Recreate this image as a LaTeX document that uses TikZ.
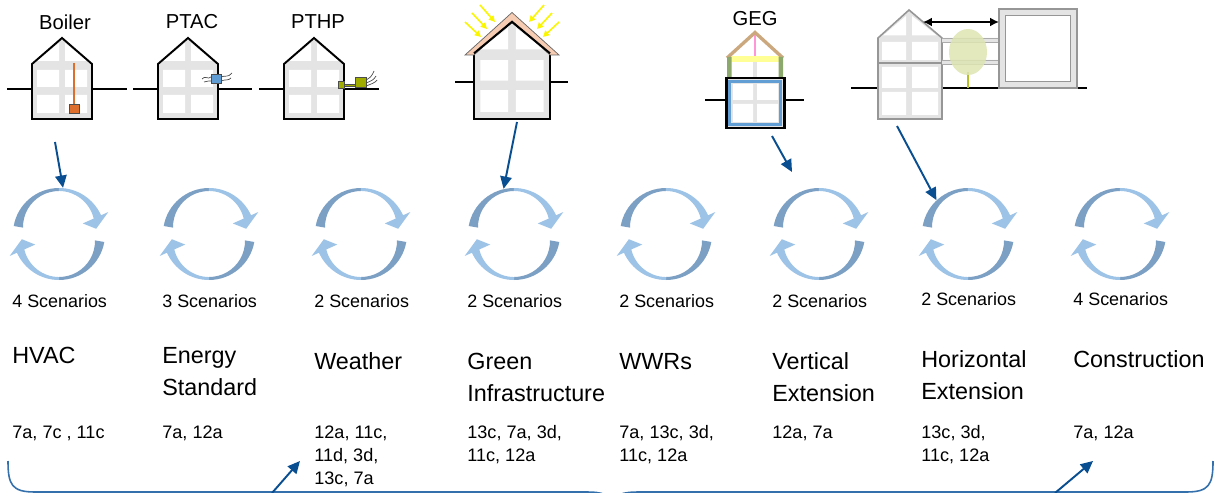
\documentclass[tikz,border=0pt]{standalone}
\usepackage{fontspec}
\setmainfont{Liberation Sans}
\usetikzlibrary{arrows.meta,calc}

\definecolor{housegray}{RGB}{228,228,228}
\definecolor{cycdark}{RGB}{124,160,196}
\definecolor{cyclight}{RGB}{157,195,230}
\definecolor{linkblue}{RGB}{10,78,146}
\definecolor{braceblue}{RGB}{52,112,172}
\definecolor{boilerorange}{RGB}{222,110,44}
\definecolor{ptacblue}{RGB}{96,156,212}
\definecolor{pthpolive}{RGB}{160,172,0}
\definecolor{rooftan}{RGB}{246,204,178}
\definecolor{sunyellow}{RGB}{250,245,0}
\definecolor{gegtan}{RGB}{204,168,126}
\definecolor{gegpink}{RGB}{255,150,215}
\definecolor{gegyellow}{RGB}{255,255,150}
\definecolor{geggreen}{RGB}{140,168,108}
\definecolor{gegblue}{RGB}{98,158,212}
\definecolor{oldgray}{RGB}{150,150,150}
\definecolor{treegreen}{RGB}{222,228,178}
\definecolor{trunkolive}{RGB}{184,192,40}

\tikzset{
  scen/.style={inner sep=0pt, anchor=base west, font=\fontsize{10.2}{13}\selectfont},
  ttl/.style={inner sep=0pt, anchor=base west, font=\fontsize{13.3}{18.1}\selectfont},
  codes/.style={inner sep=0pt, anchor=base west, font=\fontsize{10.3}{13}\selectfont},
  toplabel/.style={inner sep=0pt, font=\fontsize{11.5}{13}\selectfont},
  cyc/.style={circle, minimum size=1.84cm, inner sep=0pt, draw=none},
  link/.style={draw=linkblue, line width=1.1pt, -{Triangle[length=7pt,width=6.5pt]}},
  wall/.style={draw=black, line width=1.1pt, line join=miter},
  ground/.style={draw=black, line width=1.1pt},
  brace/.style={draw=braceblue, line width=0.9pt},
  ray/.style={draw=sunyellow, line width=0.9pt, -{Triangle[length=3.5pt,width=3.5pt]}},
  % house with gray frame and four white panes, origin at bottom centre
  pics/home/.style={code={
    \fill[housegray] (-30,0) -- (-30,-55) -- (0,-81) -- (30,-55) -- (30,0) -- cycle;
    \fill[white] (-25,-49) rectangle (-3,-32) (3,-49) rectangle (25,-32)
                 (-25,-24) rectangle (-3,-6) (3,-24) rectangle (25,-6);
    \fill[white] (-25,-58) -- (-3,-58) -- (-3,-76) -- cycle
                 (25,-58) -- (3,-58) -- (3,-76) -- cycle;
    \draw[wall] (-30,0) -- (-30,-55) -- (0,-81) -- (30,-55) -- (30,0) -- cycle;
  }},
  % two circular arrows forming a cycle, origin at centre
  pics/cycle/.style={code={
    \foreach \r in {0,180}{
      \begin{scope}[rotate=\r]
        \fill[cycdark] (190:46) arc[start angle=190, end angle=270, radius=46]
          -- (0,-43) arc[start angle=270, end angle=179, radius=36] -- cycle;
        \fill[cyclight] (270:46) arc[start angle=270, end angle=336, radius=46]
          -- (336:54) -- (352:37.5) -- (336:26) -- (336:38)
          arc[start angle=346.5, end angle=270, radius=36] -- cycle;
      \end{scope}
    }
  }}
}

\begin{document}
\begin{tikzpicture}[x=0.02cm, y=-0.02cm]
\useasboundingbox (0,0) rectangle (1219,493);
\clip (0,0) rectangle (1219,493);

% ---------- Boiler ----------
\draw[ground] (7,89) -- (32,89) (92,89) -- (127,89);
\pic at (62,119) {home};
\draw[boilerorange, line width=1.2pt] (74,63) -- (74,105);
\filldraw[fill=boilerorange, draw=black!70, line width=0.5pt] (69.5,104) rectangle (79,113);
\node[toplabel] (boiler) at (65,22) {Boiler};

% ---------- PTAC ----------
\draw[ground] (133,89) -- (158,89) (218,89) -- (252,89);
\pic at (188,119) {home};
\draw[black!70, line width=0.4pt]
  (202,79) .. controls (205,75) and (208,80) .. (211,77)
  (204,82) .. controls (207,80) and (209,82) .. (211,81)
  (221,77) .. controls (225,75) and (228,78) .. (232,73)
  (221,81) .. controls (226,79) and (228,81) .. (231,78);
\filldraw[fill=ptacblue, draw=black!70, line width=0.5pt] (211,74) rectangle (221,83);
\node[toplabel] (ptac) at (192,22) {PTAC};

% ---------- PTHP ----------
\draw[ground] (259,89) -- (284,89) (344,89) -- (379,89);
\pic at (314,119) {home};
\filldraw[fill=pthpolive, draw=black!70, line width=0.4pt] (344,84) rectangle (355,86.5);
\filldraw[fill=pthpolive, draw=black!70, line width=0.5pt] (338,81) rectangle (344.5,88);
\filldraw[fill=pthpolive, draw=black!70, line width=0.5pt] (355,77) rectangle (366,87);
\draw[black!70, line width=0.4pt]
  (366,80) .. controls (370,78) and (372,76) .. (374,71)
  (366,83) .. controls (371,81) and (374,80) .. (376,76)
  (366,86) .. controls (371,84) and (375,83) .. (377,80);
\node[toplabel] (pthp) at (318,22) {PTHP};

% ---------- Green infrastructure ----------
\draw[ground] (455,82) -- (474,82) (550,82) -- (568,82);
\pic[xscale=1.267, yscale=1.2] at (512,119) {home};
\filldraw[fill=rooftan, draw=black!60, line width=0.4pt]
  (465,55) -- (512,12.5) -- (559,55) -- (550,55) -- (512,21) -- (474,55) -- cycle;
\draw[wall] (474,53.3) -- (512,21.8) -- (550,53.3);
\draw[ray] (465,22) -- (481,37);
\draw[ray] (472,13) -- (487,29);
\draw[ray] (480,5) -- (495,22);
\draw[ray] (544,5) -- (529,22);
\draw[ray] (552,13) -- (537,29);
\draw[ray] (559,22) -- (543,37);

% ---------- GEG vertical extension ----------
\draw[ground] (705,100) -- (726,100) (784,100) -- (804,100);
\fill[white] (727,57) -- (755,32) -- (783,57) -- (783,78) -- (727,78) -- cycle;
\draw[housegray, line width=2pt] (755,62) -- (755,78);
\fill[gegyellow] (727,56) rectangle (783,62);
\draw[gegpink, line width=1.6pt] (755,35) -- (755,56);
\draw[gegtan, line width=1.9pt, line join=miter] (727,58) -- (755,32.5) -- (783,58);
\fill[geggreen] (727,57) rectangle (731.5,78) (778.5,57) rectangle (783,78);
\fill[housegray] (726,78) rectangle (784,128);
\fill[white] (733,84) rectangle (753,100) (757,84) rectangle (778,100)
             (733,104) rectangle (753,122) (757,104) rectangle (778,122);
\draw[gegblue, line width=2.2pt] (729.5,81.5) rectangle (780.5,124.5);
\draw[black, line width=1.7pt] (726,78) rectangle (784,128);
\node[toplabel] (geg) at (755,19) {GEG};

% ---------- Horizontal extension ----------
\draw[ground] (851,88) -- (878,88) (942,88) -- (999,88) (1077,88) -- (1087,88);
\fill[housegray] (878,119) -- (878,38) -- (909,10) -- (942,38) -- (942,119) -- cycle;
\fill[white] (882,42) rectangle (906,60) (912,42) rectangle (938,60)
             (882,67) rectangle (906,88) (912,67) rectangle (938,88)
             (882,92) rectangle (906,115) (912,92) rectangle (938,115);
\fill[white] (883,35.5) -- (906,35.5) -- (906,16) -- cycle
             (912,35.5) -- (937,35.5) -- (912,16) -- cycle;
\draw[oldgray, line width=0.9pt, line join=miter]
  (878,119) -- (878,38) -- (909,10) -- (942,38) -- (942,119) -- cycle;
\draw[oldgray, line width=0.9pt] (878,63) -- (942,63);
% corridors to the neighbouring block
\fill[housegray] (942,38) rectangle (999,42) (942,60) rectangle (999,64);
\draw[oldgray!80, line width=0.5pt] (942,38) -- (999,38) (942,42) -- (999,42)
  (942,60) -- (999,60) (942,64) -- (999,64);
\draw[trunkolive, line width=0.9pt] (968,72) -- (968,88);
\fill[treegreen, opacity=0.85] (968,52) ellipse[x radius=19, y radius=23];
\fill[housegray, even odd rule] (999,9) rectangle (1077,88) (1005.5,15.5) rectangle (1070.5,81.5);
\draw[oldgray, line width=0.9pt] (999,9) rectangle (1077,88) (1005.5,15.5) rectangle (1070.5,81.5);
\draw[black, line width=1.4pt, {Latex[length=5pt,width=5pt]}-{Latex[length=5pt,width=5pt]}]
  (923,22) -- (999,22);

% ---------- cycle symbols ----------
\foreach \n/\cx in {1/59,2/209,3/361,4/514,5/666,6/819,7/968,8/1120}{
  \pic at (\cx,234) {cycle};
  \node[cyc] (c\n) at (\cx,234) {};
}

% ---------- links from the options to the cycles ----------
\coordinate (boilerfoot) at (55,142);
\coordinate (greenfoot) at (517,122);
\coordinate (gegfoot) at (772,136);
\coordinate (gegtip) at (792,172);
\coordinate (hextfoot) at (897,126);
\draw[link] (boilerfoot) -- (c1.85);
\draw[link] (greenfoot) -- (c4.103);
\draw[link] (gegfoot) -- (gegtip);
\draw[link] (hextfoot) -- (c7.133);

% ---------- scenario counts ----------
\node[scen] (s1) at (12,307.5) {4 Scenarios};
\node[scen] (s2) at (162,307.5) {3 Scenarios};
\node[scen] (s3) at (314,307.5) {2 Scenarios};
\node[scen] (s4) at (467,307.5) {2 Scenarios};
\node[scen] (s5) at (619,307.5) {2 Scenarios};
\node[scen] (s6) at (772,307.5) {2 Scenarios};
\node[scen] (s7) at (921,305.5) {2 Scenarios};
\node[scen] (s8) at (1073,305.5) {4 Scenarios};

% ---------- parameter names ----------
\node[ttl] (t1) at (12,363.5) {HVAC};
\node[ttl] (t2) at (162,363.5) {\parbox[t]{4cm}{Energy\\Standard}};
\node[ttl] (t3) at (314,369.5) {Weather};
\node[ttl] (t4) at (467,369.5) {\parbox[t]{4cm}{Green\\Infrastructure}};
\node[ttl] (t5) at (619,369.5) {WWRs};
\node[ttl] (t6) at (772,369.5) {\parbox[t]{4cm}{Vertical\\Extension}};
\node[ttl] (t7) at (921,367.5) {\parbox[t]{4cm}{Horizontal\\Extension}};
\node[ttl] (t8) at (1073,367.5) {Construction};

% ---------- target codes ----------
\node[codes] (k1) at (12,438.5) {7a, 7c , 11c};
\node[codes] (k2) at (162,438.5) {7a, 12a};
\node[codes] (k3) at (314,438.5) {\parbox[t]{3cm}{12a, 11c,\\11d, 3d,\\13c, 7a}};
\node[codes] (k4) at (467,438.5) {\parbox[t]{3cm}{13c, 7a, 3d,\\11c, 12a}};
\node[codes] (k5) at (619,438.5) {\parbox[t]{3cm}{7a, 13c, 3d,\\11c, 12a}};
\node[codes] (k6) at (772,438.5) {12a, 7a};
\node[codes] (k7) at (921,438.5) {\parbox[t]{3cm}{13c, 3d,\\11c, 12a}};
\node[codes] (k8) at (1073,438.5) {7a, 12a};

% ---------- grouping brace ----------
\draw[brace] (8,461) .. controls (8,485) and (12,492) .. (35,492) -- (585,492)
  .. controls (603,492) and (609,494) .. (612,505);
\draw[brace] (1213,461) .. controls (1213,485) and (1209,492) .. (1186,492) -- (640,492)
  .. controls (622,492) and (615,494) .. (612,505);
\coordinate (braceleft) at (272,493);
\coordinate (braceright) at (1055,493);
\coordinate (lefttip) at (300,461);
\coordinate (righttip) at (1093,461);
\draw[link] (braceleft) -- (lefttip);
\draw[link] (braceright) -- (righttip);
\end{tikzpicture}
\end{document}
